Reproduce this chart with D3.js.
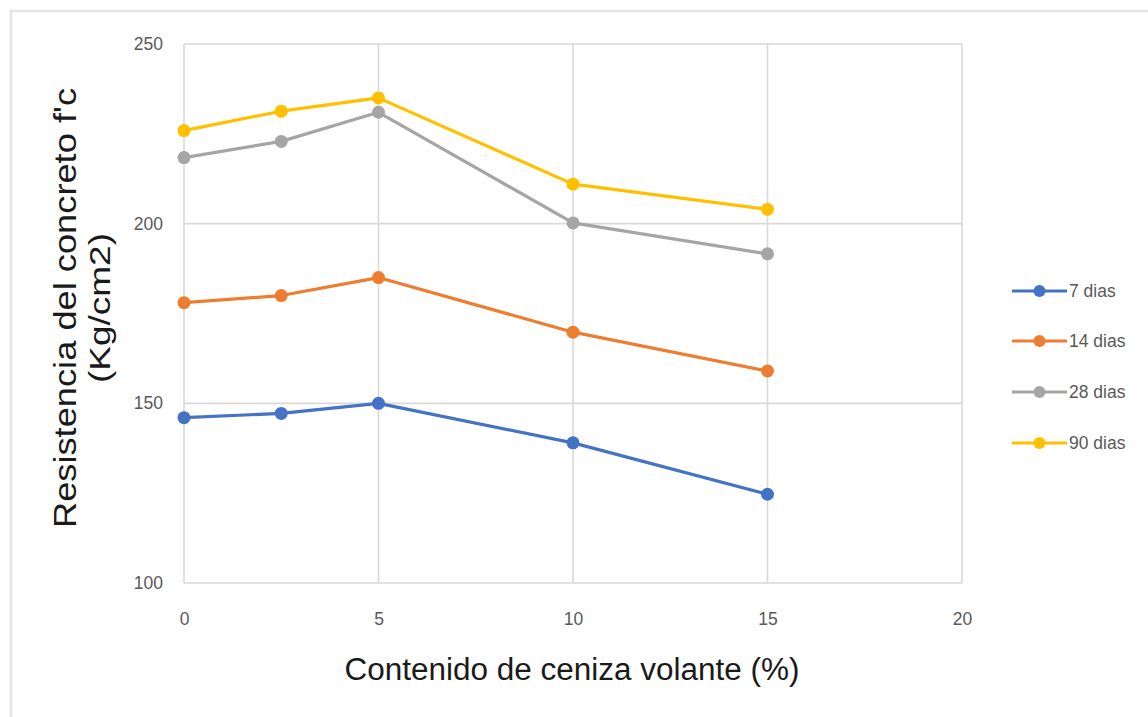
<!DOCTYPE html>
<html>
<head>
<meta charset="utf-8">
<script src="https://cdn.jsdelivr.net/npm/d3@7"></script>
<style>
  html, body { margin: 0; padding: 0; background: #fff; }
  svg { display: block; }
</style>
</head>
<body>
<svg id="chart" width="1148" height="717"></svg>
<script>
// Fly-ash content (%) on the x axis
const ashContent = [0, 2.5, 5, 10, 15];

// Compressive strength (kg/cm2) per curing age
const series7 = [146, 147.2, 150, 139, 124.7];
const series14 = [178, 180, 185, 169.8, 159];
const series28 = [218.4, 222.9, 231, 200.2, 191.6];
const series90 = [225.9, 231.3, 235, 211, 204];

const seriesNames = ["7 dias", "14 dias", "28 dias", "90 dias"];
const seriesColors = ["#4472C4", "#ED7D31", "#A5A5A5", "#FFC000"];

const xTicks = [0, 5, 10, 15, 20];
const yTicks = [100, 150, 200, 250];

const svg = d3.select("#chart");

// Outer chart frame
svg.append("rect")
  .attr("x", 11).attr("y", 11)
  .attr("width", 1160).attr("height", 740)
  .attr("fill", "none")
  .attr("stroke", "#e4e4e4")
  .attr("stroke-width", 2.5);

const plot = { left: 184, right: 962, top: 44, bottom: 583 };

const x = d3.scaleLinear().domain([0, 20]).range([plot.left, plot.right]);
const y = d3.scaleLinear().domain([100, 250]).range([plot.bottom, plot.top]);

// Gridlines
const grid = svg.append("g");
grid.selectAll("line.h").data(yTicks).join("line")
  .attr("x1", plot.left).attr("x2", plot.right)
  .attr("y1", d => y(d)).attr("y2", d => y(d))
  .attr("stroke", "#d9d9d9").attr("stroke-width", 1.6);
grid.selectAll("line.v").data(xTicks).join("line")
  .attr("y1", plot.top).attr("y2", plot.bottom)
  .attr("x1", d => x(d)).attr("x2", d => x(d))
  .attr("stroke", "#d9d9d9").attr("stroke-width", 1.6);

// Axes (labels only, lines come from the grid)
const tickFont = "'Liberation Sans', sans-serif";
const yAxis = svg.append("g")
  .attr("transform", `translate(${plot.left},0)`)
  .call(d3.axisLeft(y).tickValues(yTicks).tickSize(0).tickPadding(21));
yAxis.select(".domain").remove();
yAxis.selectAll("text")
  .attr("fill", "#595959")
  .style("font-family", tickFont)
  .style("font-size", "17.5px");

const xAxis = svg.append("g")
  .attr("transform", `translate(0,${plot.bottom})`)
  .call(d3.axisBottom(x).tickValues(xTicks).tickSize(0).tickPadding(30));
xAxis.select(".domain").remove();
xAxis.selectAll("text")
  .attr("fill", "#595959")
  .style("font-family", tickFont)
  .style("font-size", "17.5px");

// Series lines and markers
const allSeries = [series7, series14, series28, series90];
const line = d3.line().x(d => x(d[0])).y(d => y(d[1]));

allSeries.forEach((vals, i) => {
  const pts = ashContent.map((a, j) => [a, vals[j]]);
  const g = svg.append("g");
  g.append("path")
    .attr("d", line(pts))
    .attr("fill", "none")
    .attr("stroke", seriesColors[i])
    .attr("stroke-width", 3.2)
    .attr("stroke-linejoin", "round");
  g.selectAll("circle").data(pts).join("circle")
    .attr("cx", d => x(d[0])).attr("cy", d => y(d[1]))
    .attr("r", 6.5)
    .attr("fill", seriesColors[i]);
});

// Legend
const legendRows = [291, 341, 392, 443];
const legend = svg.append("g");
seriesNames.forEach((name, i) => {
  const ly = legendRows[i];
  legend.append("line")
    .attr("x1", 1012).attr("x2", 1067)
    .attr("y1", ly).attr("y2", ly)
    .attr("stroke", seriesColors[i]).attr("stroke-width", 3.2);
  legend.append("circle")
    .attr("cx", 1039.5).attr("cy", ly).attr("r", 6)
    .attr("fill", seriesColors[i]);
  legend.append("text")
    .attr("x", 1069).attr("y", ly)
    .attr("dy", "0.35em")
    .attr("fill", "#595959")
    .style("font-family", tickFont)
    .style("font-size", "17.5px")
    .text(name);
});

// Axis titles
svg.append("text")
  .attr("x", 572).attr("y", 680)
  .attr("text-anchor", "middle")
  .attr("textLength", 455)
  .attr("lengthAdjust", "spacingAndGlyphs")
  .attr("fill", "#1a1a1a")
  .style("font-family", "'Liberation Sans', sans-serif")
  .style("font-size", "31px")
  .text("Contenido de ceniza volante (%)");

const yTitle = svg.append("g")
  .attr("transform", "translate(0,308) rotate(-90)");
yTitle.append("text")
  .attr("x", 0).attr("y", 76)
  .attr("text-anchor", "middle")
  .attr("textLength", 440)
  .attr("lengthAdjust", "spacingAndGlyphs")
  .attr("fill", "#1a1a1a")
  .style("font-family", "'Liberation Sans', sans-serif")
  .style("font-size", "31px")
  .text("Resistencia del concreto f'c");
yTitle.append("text")
  .attr("x", 0).attr("y", 110)
  .attr("text-anchor", "middle")
  .attr("textLength", 150)
  .attr("lengthAdjust", "spacingAndGlyphs")
  .attr("fill", "#1a1a1a")
  .style("font-family", "'Liberation Sans', sans-serif")
  .style("font-size", "29px")
  .text("(Kg/cm2)");
</script>
</body>
</html>
